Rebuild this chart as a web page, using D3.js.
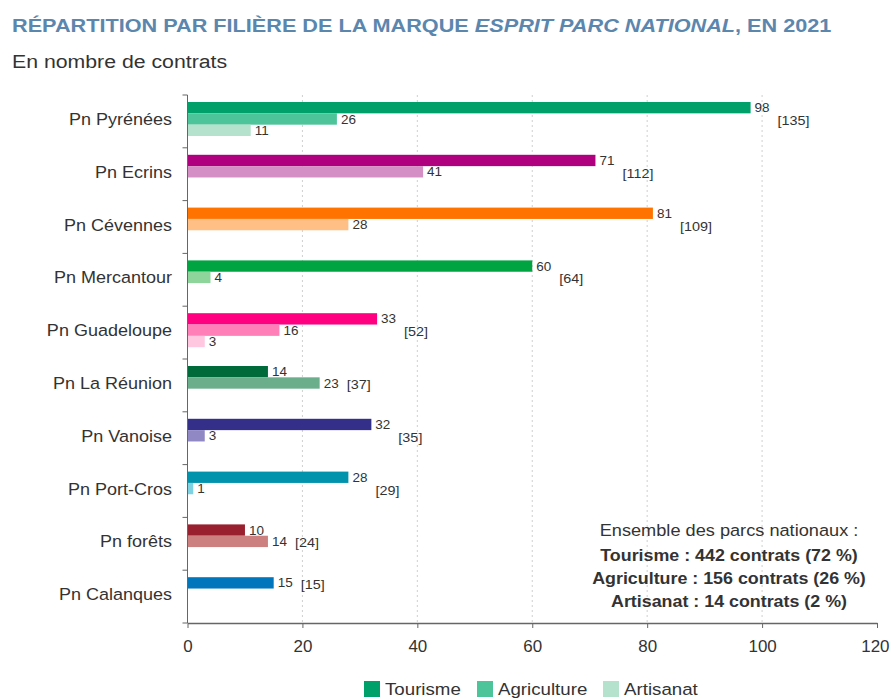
<!DOCTYPE html>
<html>
<head>
<meta charset="utf-8">
<script src="https://cdn.jsdelivr.net/npm/d3@7"></script>
<style>
  body { margin: 0; background: #fff; }
  svg { display: block; font-family: "Liberation Sans", Arial, sans-serif; }
</style>
</head>
<body>
<div id="chart"></div>
<script>
// data
const parks = ["Pn Pyrénées", "Pn Ecrins", "Pn Cévennes", "Pn Mercantour", "Pn Guadeloupe",
  "Pn La Réunion", "Pn Vanoise", "Pn Port-Cros", "Pn forêts", "Pn Calanques"];
const tourisme = [98, 71, 81, 60, 33, 14, 32, 28, 10, 15];
const agriculture = [26, 41, 28, 4, 16, 23, 3, 1, 14, null];
const artisanat = [11, null, null, null, 3, null, null, null, null, null];
const totals = [135, 112, 109, 64, 52, 37, 35, 29, 24, 15];
const parkColors = [
  ["#00a06a", "#4dc49a", "#b4e2cd"],
  ["#b0007f", "#d48fc4", "#ecc8e2"],
  ["#ff7300", "#ffbf85", "#ffe0c4"],
  ["#00a542", "#8ed59c", "#c8eccf"],
  ["#ff0080", "#ff80b9", "#ffc8e0"],
  ["#006a3a", "#6aae8b", "#b6d8c6"],
  ["#34308a", "#8f88c5", "#c9c6e3"],
  ["#0093ab", "#7fd2e2", "#c0e9f1"],
  ["#99202e", "#cc8080", "#e6c0c0"],
  ["#0076bd", "#80bbdf", "#c0ddef"]
];
const xTicks = [0, 20, 40, 60, 80, 100, 120];
const seriesNames = ["Tourisme", "Agriculture", "Artisanat"];
const summaryTitle = "Ensemble des parcs nationaux :";
const summaryLines = [
  "Tourisme : 442 contrats (72 %)",
  "Agriculture : 156 contrats (26 %)",
  "Artisanat : 14 contrats (2 %)"
];

const width = 890, height = 700;
const svg = d3.select("#chart").append("svg")
  .attr("width", width)
  .attr("height", height);

// widen text horizontally around its anchor (the source font runs wider)
function stretch(sel, sx) {
  sel.each(function() {
    var t = d3.select(this);
    var tx = +t.attr("x") || 0, ty = +t.attr("y") || 0;
    t.attr("x", 0).attr("y", 0)
      .attr("transform", "translate(" + tx + "," + ty + ") scale(" + sx + ",1)");
  });
}

// title
const title = svg.append("text")
  .attr("x", 12)
  .attr("y", 32)
  .style("font-size", "18px")
  .style("font-weight", "bold")
  .style("fill", "#5b86ae");
title.append("tspan").text("RÉPARTITION PAR FILIÈRE DE LA MARQUE ");
title.append("tspan").style("font-style", "italic").text("ESPRIT PARC NATIONAL");
title.append("tspan").text(", EN 2021");
var tw = title.node().getComputedTextLength();
stretch(title, 820 / tw);

svg.append("text")
  .attr("x", 12)
  .attr("y", 68)
  .style("font-size", "19px")
  .style("fill", "#333")
  .text("En nombre de contrats")
  .call(stretch, 1.12);

const x = d3.scaleLinear().domain([0, 120]).range([187.5, 877]);
const y = d3.scaleBand().domain(parks).range([95, 623]);
const slot = d3.scaleBand().domain([0, 1, 2]).range([7, 41]);

const rows = parks.map((p, i) => ({
  park: p,
  i: i,
  values: [tourisme[i], agriculture[i], artisanat[i]]
}));

// grid
svg.append("g")
  .selectAll("line")
  .data(xTicks.filter(d => d > 0 && d < 120))
  .enter()
  .append("line")
  .attr("x1", d => x(d))
  .attr("x2", d => x(d))
  .attr("y1", 95)
  .attr("y2", 623)
  .style("stroke", "#cfcfcf")
  .style("stroke-width", 1)
  .style("stroke-dasharray", "2,3");

// bars
const groups = svg.append("g")
  .selectAll("g")
  .data(rows)
  .enter()
  .append("g")
  .attr("transform", d => "translate(0," + y(d.park) + ")");

groups.each(function(row) {
  var g = d3.select(this);
  var bars = row.values.map((v, k) => ({ v: v, k: k })).filter(d => d.v != null);
  g.selectAll("rect")
    .data(bars)
    .enter()
    .append("rect")
    .attr("x", x(0))
    .attr("y", d => slot(d.k))
    .attr("width", d => x(d.v) - x(0))
    .attr("height", slot.bandwidth())
    .style("fill", d => parkColors[row.i][d.k]);
  g.selectAll("text.val")
    .data(bars)
    .enter()
    .append("text")
    .attr("class", "val")
    .attr("x", d => x(d.v) + 4)
    .attr("y", d => slot(d.k) + slot.bandwidth() / 2 + 4.5)
    .style("font-size", "12.5px")
    .style("fill", "#333")
    .text(d => d.v)
    .call(stretch, 1.08);
  var maxV = d3.max(bars, d => d.v);
  var k = Math.min(bars.length - 1, 1);
  g.append("text")
    .attr("x", x(maxV) + 27)
    .attr("y", slot(k) + slot.bandwidth() / 2 + 6)
    .style("font-size", "12px")
    .style("fill", "#333")
    .text("[" + totals[row.i] + "]")
    .call(stretch, 1.2);
});

// category labels
svg.append("g")
  .selectAll("text")
  .data(parks)
  .enter()
  .append("text")
  .attr("x", 172)
  .attr("y", d => y(d) + slot(0) + (slot(2) + slot.bandwidth() - slot(0)) / 2 + 6)
  .attr("text-anchor", "end")
  .style("font-size", "17px")
  .style("fill", "#333")
  .text(d => d)
  .call(stretch, 1.06);

// y axis
const yAxis = svg.append("g").style("stroke", "#666");
yAxis.append("line")
  .attr("x1", x(0)).attr("x2", x(0))
  .attr("y1", 95).attr("y2", 623);
yAxis.selectAll("line.tick")
  .data(parks.map(p => y(p)).concat([623]))
  .enter()
  .append("line")
  .attr("class", "tick")
  .attr("x1", x(0) - 5).attr("x2", x(0))
  .attr("y1", d => d).attr("y2", d => d);

// x axis
const xAxis = svg.append("g")
  .attr("transform", "translate(0,623)")
  .call(d3.axisBottom(x).tickValues(xTicks).tickSize(5).tickSizeOuter(0).tickPadding(12));
xAxis.select(".domain").style("stroke", "#666").style("stroke-width", 1.5);
xAxis.selectAll(".tick line").style("stroke", "#666");
xAxis.selectAll(".tick text")
  .style("font-family", "Liberation Sans, Arial, sans-serif")
  .style("font-size", "16px")
  .style("fill", "#333")
  .attr("dy", null)
  .attr("y", 29)
  .attr("x", d => d == 120 ? 889 - x(120) : 0)
  .attr("text-anchor", d => d == 120 ? "end" : "middle")
  .call(stretch, 1.06);

// summary
const summary = svg.append("g").attr("text-anchor", "middle");
summary.append("text")
  .attr("x", 729).attr("y", 536)
  .style("font-size", "17px")
  .style("fill", "#333")
  .text(summaryTitle)
  .call(stretch, 1.07);
summary.selectAll("text.line")
  .data(summaryLines)
  .enter()
  .append("text")
  .attr("class", "line")
  .attr("x", 729)
  .attr("y", (d, i) => 561 + i * 23)
  .style("font-size", "17px")
  .style("font-weight", "bold")
  .style("fill", "#333")
  .text(d => d)
  .call(stretch, 1.05);

// legend
const legendX = [364, 477, 603];
const legend = svg.append("g")
  .selectAll("g")
  .data(seriesNames)
  .enter()
  .append("g")
  .attr("transform", (d, i) => "translate(" + legendX[i] + ",681)");
legend.append("rect")
  .attr("width", 16).attr("height", 16)
  .style("fill", (d, i) => parkColors[0][i]);
legend.append("text")
  .attr("x", 21).attr("y", 14)
  .style("font-size", "17px")
  .style("fill", "#333")
  .text(d => d)
  .call(stretch, 1.1);
</script>
</body>
</html>
